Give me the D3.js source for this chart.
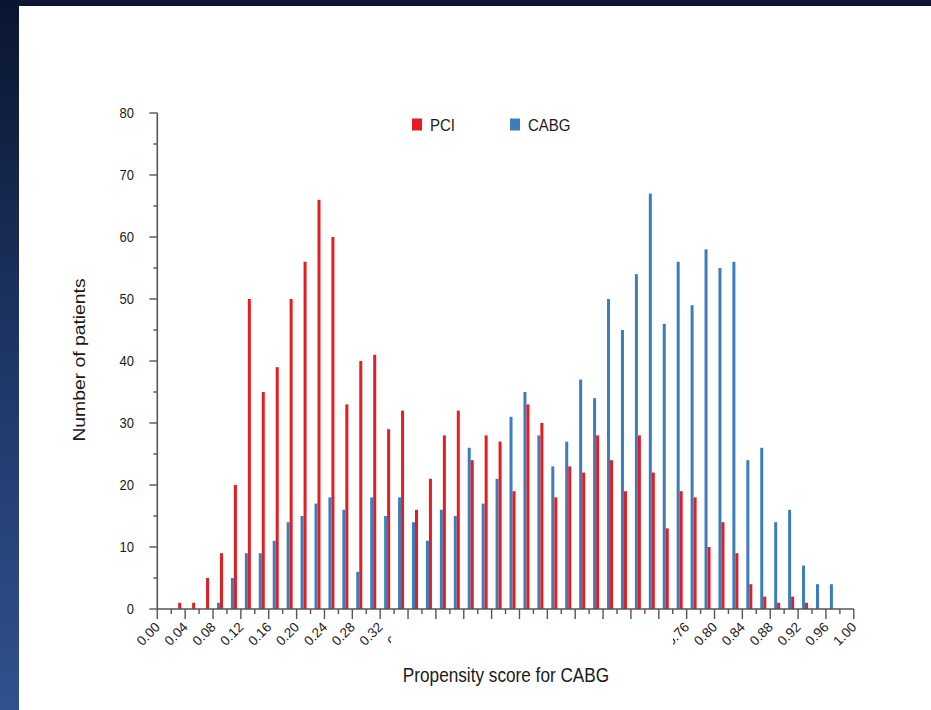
<!DOCTYPE html>
<html>
<head>
<meta charset="utf-8">
<script src="https://cdn.jsdelivr.net/npm/d3@7"></script>
<style>
  html, body { margin: 0; padding: 0; background: #0b1733; }
  svg { display: block; }
  text { font-family: "Liberation Sans", Arial, sans-serif; fill: #1a1a1a; }
</style>
</head>
<body>
<script>
// ---- data (bin start of each 0.02-wide propensity-score bin) ----
const binStarts = [0.00,0.02,0.04,0.06,0.08,0.10,0.12,0.14,0.16,0.18,
                   0.20,0.22,0.24,0.26,0.28,0.30,0.32,0.34,0.36,0.38,
                   0.40,0.42,0.44,0.46,0.48,0.50,0.52,0.54,0.56,0.58,
                   0.60,0.62,0.64,0.66,0.68,0.70,0.72,0.74,0.76,0.78,
                   0.80,0.82,0.84,0.86,0.88,0.90,0.92,0.94,0.96,0.98];
const pciCounts  = [0,1,1,5,9,20,50,35,39,50,
                    56,66,60,33,40,41,29,32,16,21,
                    28,32,24,28,27,19,33,30,18,23,
                    22,28,24,19,28,22,13,19,18,10,
                    14,9,4,2,1,2,1,0,0,0];
const cabgCounts = [0,0,0,0,1,5,9,9,11,14,
                    15,17,18,16,6,18,15,18,14,11,
                    16,15,26,17,21,31,35,28,23,27,
                    37,34,50,45,54,67,46,56,49,58,
                    55,56,24,26,14,16,7,4,4,0];
const binWidth = 0.02;
const xTickValues = [0.00,0.04,0.08,0.12,0.16,0.20,0.24,0.28,0.32,0.36,0.40,0.44,0.48,
                     0.52,0.56,0.60,0.64,0.68,0.72,0.76,0.80,0.84,0.88,0.92,0.96,1.00];
const xMinorTicks = binStarts.concat([1.00]);
const yTickValues = [0,10,20,30,40,50,60,70,80];
const yMinorTicks = [5,15,25,35,45,55,65,75];
const seriesNames = ["PCI","CABG"];
const seriesColors = ["#e41d22","#3b7dbd"];

const W = 931, H = 710;
const svg = d3.select("body").append("svg").attr("width", W).attr("height", H);

// background: dark top band, gradient left strip, white slide panel
const defs = svg.append("defs");
const grad = defs.append("linearGradient").attr("id","leftgrad")
  .attr("x1",0).attr("y1",0).attr("x2",0).attr("y2",1);
grad.append("stop").attr("offset","0%").attr("stop-color","#0a1530");
grad.append("stop").attr("offset","45%").attr("stop-color","#1c3360");
grad.append("stop").attr("offset","100%").attr("stop-color","#30518f");
svg.append("rect").attr("width",W).attr("height",H).attr("fill","#0b1733");
svg.append("rect").attr("x",0).attr("y",0).attr("width",19).attr("height",H).attr("fill","url(#leftgrad)");
svg.append("rect").attr("x",19).attr("y",6).attr("width",W-19).attr("height",H-6).attr("fill","#ffffff");

const x = d3.scaleLinear().domain([0,1]).range([157.3, 853.8]);
const y = d3.scaleLinear().domain([0,80]).range([609, 113]);
const stretch = 1.16;
const barW = 3;

// bars
const g = svg.append("g");
g.selectAll("rect.cabg").data(binStarts.map((b,i)=>({b, v:cabgCounts[i]})).filter(d=>d.v>0))
  .enter().append("rect").attr("class","cabg")
  .attr("x", d => x(d.b + binWidth/2) - barW)
  .attr("y", d => y(d.v))
  .attr("width", barW)
  .attr("height", d => y(0) - y(d.v))
  .attr("fill", seriesColors[1]);
g.selectAll("rect.pci").data(binStarts.map((b,i)=>({b, v:pciCounts[i]})).filter(d=>d.v>0))
  .enter().append("rect").attr("class","pci")
  .attr("x", d => x(d.b + binWidth/2))
  .attr("y", d => y(d.v))
  .attr("width", barW)
  .attr("height", d => y(0) - y(d.v))
  .attr("fill", seriesColors[0]);

const axisColor = "#555";
// y axis
const yAxis = svg.append("g");
yAxis.append("line").attr("x1",x(0)).attr("x2",x(0)).attr("y1",y(80)).attr("y2",y(0))
  .attr("stroke",axisColor).attr("stroke-width",1.6);
yAxis.selectAll("line.maj").data(yTickValues).enter().append("line")
  .attr("x1",x(0)-8).attr("x2",x(0)).attr("y1",d=>y(d)).attr("y2",d=>y(d))
  .attr("stroke",axisColor).attr("stroke-width",1.4);
yAxis.selectAll("line.min").data(yMinorTicks).enter().append("line")
  .attr("x1",x(0)-4).attr("x2",x(0)).attr("y1",d=>y(d)).attr("y2",d=>y(d))
  .attr("stroke",axisColor).attr("stroke-width",1.4);
yAxis.selectAll("text").data(yTickValues).enter().append("text")
  .attr("transform", d => `translate(134,${y(d)}) scale(1,${stretch})`)
  .attr("dy","0.36em").attr("text-anchor","end").style("font-size","13px")
  .text(d => d);

// x axis
const xAxis = svg.append("g");
xAxis.append("line").attr("x1",x(0)).attr("x2",x(1)).attr("y1",y(0)).attr("y2",y(0))
  .attr("stroke",axisColor).attr("stroke-width",1.6);
xAxis.selectAll("line.tk").data(xMinorTicks).enter().append("line")
  .attr("x1",d=>x(d)).attr("x2",d=>x(d)).attr("y1",y(0))
  .attr("y2",(d,i)=> y(0) + (i%2===0 ? 10 : 5))
  .attr("stroke",axisColor).attr("stroke-width",1.4);
xAxis.selectAll("text").data(xTickValues).enter().append("text")
  .attr("transform", d => `translate(${x(d)+3.5},628) rotate(-45)`)
  .attr("text-anchor","end").style("font-size","13.5px")
  .text(d => d3.format(".2f")(d));
// covered middle labels (as in the original slide)
svg.append("rect").attr("x",391).attr("y",620).attr("width",282).attr("height",46).attr("fill","#fff");

// axis titles
svg.append("text")
  .attr("transform", `translate(506,682) scale(1,${stretch})`)
  .attr("text-anchor","middle").style("font-size","17.2px")
  .text("Propensity score for CABG");
svg.append("text")
  .attr("transform", `translate(85,360) scale(1,1.15) rotate(-90)`)
  .attr("text-anchor","middle").style("font-size","16.8px")
  .text("Number of patients");

// legend
const legendX = [412, 510];
const leg = svg.append("g");
seriesNames.forEach((name, i) => {
  leg.append("rect").attr("x",legendX[i]).attr("y",118.5).attr("width",10).attr("height",12)
    .attr("fill",seriesColors[i]);
  leg.append("text").attr("transform",`translate(${legendX[i]+18},131) scale(1,${stretch})`)
    .style("font-size","15px").text(name);
});
</script>
</body>
</html>
